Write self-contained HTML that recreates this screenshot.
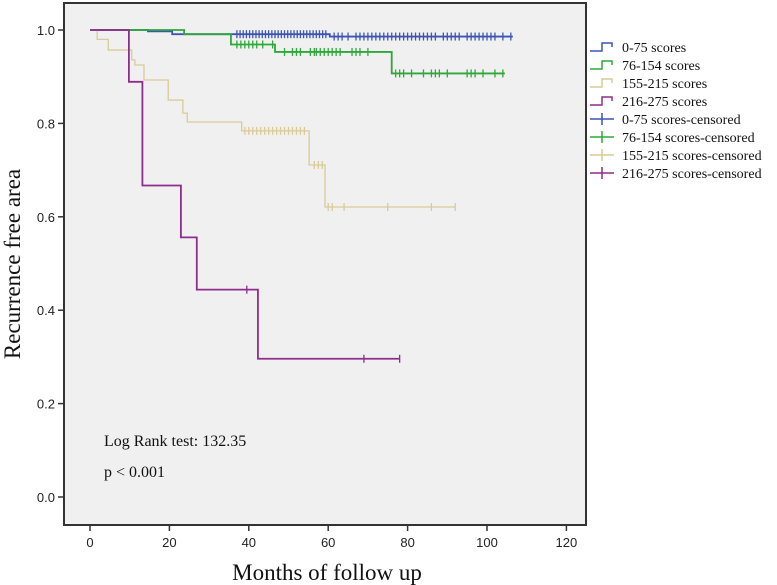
<!DOCTYPE html>
<html><head><meta charset="utf-8"><style>
body{margin:0;background:#fff;}
svg{display:block;}
.tk{font-family:"Liberation Sans",sans-serif;font-size:13px;fill:#222;}
.sf{font-family:"Liberation Serif",serif;fill:#111;}
</style></head><body>
<svg id="chart" width="777" height="585">
<rect x="64" y="3" width="522" height="522" fill="#f0f0f0" stroke="#333" stroke-width="2"/>
<g id="axes"></g>
<g id="series"></g>
<g id="legend"></g>
<text class="sf" x="104" y="446" font-size="16">Log Rank test: 132.35</text>
<text class="sf" x="104" y="477" font-size="16">p &lt; 0.001</text>
<text class="sf" x="327" y="580" font-size="23" text-anchor="middle">Months of follow up</text>
<text class="sf" x="20" y="264" font-size="23" text-anchor="middle" transform="rotate(-90 20 264)">Recurrence free area</text>
</svg>
<script>
const xTicks=[0,20,40,60,80,100,120];
const yTicks=[0.0,0.2,0.4,0.6,0.8,1.0];
const seriesNames=["0-75 scores","76-154 scores","155-215 scores","216-275 scores"];
const blueSteps=[[0,1.0],[14.6,0.997],[20.7,0.991],[60.4,0.986]];
const blueEnd=106.5;
const blueCens=[37,37.8,38.6,39.4,40.2,41,41.8,42.6,43.4,44.2,45,45.8,46.6,47.4,48.2,49,49.8,50.6,51.4,52.2,53,53.8,54.6,55.4,56.2,57,57.8,58.6,59.4,61.5,62.5,63.5,65,67,68,69,70,71,72,73,74,75,76,77,78,79,80,81,82,83,84,85,86,87,89,90,91,92,93,95,96,97,98,99,100,101,102,104,106];
const greenSteps=[[0,1.0],[23.7,0.991],[35.5,0.969],[46.6,0.953],[76,0.907]];
const greenEnd=104.5;
const greenCens=[37,38,39,40,41,42,43.5,46,49,51,52,53,55.5,56.5,57,58,59,60,61,62,63,66,67,68,70,77,78,79,81,84,86,87,88,90,95,96,97,99,102,104];
const tanSteps=[[0,1.0],[1.8,0.98],[4.6,0.957],[10.5,0.936],[11.3,0.925],[13.6,0.893],[19.7,0.85],[23.4,0.822],[24.5,0.803],[38.2,0.784],[55.2,0.711],[59.2,0.621]];
const tanEnd=92;
const tanCens=[39,40,41,42,43,44,45,46,47,48,49,50,51,52,53,54,56.5,57.5,58.5,60,61,64,75,86,92];
const purpleSteps=[[0,1.0],[9.8,0.889],[13.2,0.667],[22.9,0.556],[26.9,0.444],[42.3,0.296]];
const purpleEnd=78;
const purpleCens=[39.5,69,78];
const colors=["#3c55b4","#2ea83a","#d9cb96","#8e2d8c"];

const NS="http://www.w3.org/2000/svg";
const X=m=>90+3.97*m;
const Y=v=>497-467*v;
function mk(tag,attrs,parent,txt){const e=document.createElementNS(NS,tag);for(const k in attrs)e.setAttribute(k,attrs[k]);if(txt!==undefined)e.textContent=txt;parent.appendChild(e);return e;}
const axes=document.getElementById('axes');
xTicks.forEach(t=>{
  const l=mk('line',{x1:X(t),x2:X(t),y1:525,y2:531,stroke:'#333','stroke-width':1.5},axes);
  
  
  const tx=mk('text',{x:X(t),y:547,'text-anchor':'middle',class:'tk'},axes,String(t));
  
  
});
yTicks.forEach(t=>{
  const l=mk('line',{x1:58,x2:64,y1:Y(t),y2:Y(t),stroke:'#333','stroke-width':1.5},axes);
  
  
  const tx=mk('text',{x:55,y:Y(t)+5,'text-anchor':'end',class:'tk'},axes,t.toFixed(1));
  
  
});
function valAt(steps,m){let v=steps[0][1];steps.forEach(s=>{if(s[0]<=m)v=s[1];});return v;}
const ser=document.getElementById('series');
const all=[[blueSteps,blueEnd,blueCens],[greenSteps,greenEnd,greenCens],[tanSteps,tanEnd,tanCens],[purpleSteps,purpleEnd,purpleCens]];
all.forEach((s,i)=>{
  const [steps,end,cens]=s;
  let d='M'+X(steps[0][0])+' '+Y(steps[0][1]);
  for(let k=1;k<steps.length;k++){d+=' H'+X(steps[k][0])+' V'+Y(steps[k][1]);}
  d+=' H'+X(end);
  const p=mk('path',{d:d,fill:'none',stroke:colors[i],'stroke-width':i===2?1.3:1.8},ser);
  
  
  cens.forEach(c=>{
    const y=Y(valAt(steps,c));
    const l=mk('line',{x1:X(c),x2:X(c),y1:y-4,y2:y+4,stroke:colors[i],'stroke-width':1.3},ser);
    
    
  });
});
const lg=document.getElementById('legend');
const labels=seriesNames.concat(seriesNames.map(n=>n+'-censored'));
labels.forEach((t,i)=>{
  const y=47+18*i, c=colors[i%4];
  let sym;
  if(i<4){sym=mk('path',{d:`M590 ${y+4} H602 V${y-4} H612 V${y}`,fill:'none',stroke:c,'stroke-width':1.5},lg);}
  else{sym=mk('path',{d:`M590 ${y} H614 M602 ${y-6} V${y+6}`,fill:'none',stroke:c,'stroke-width':1.5},lg);}
  
  
  const tx=mk('text',{x:622,y:y+5,'font-size':14,class:'sf'},lg,t);
  
  
});
</script>
</body></html>
